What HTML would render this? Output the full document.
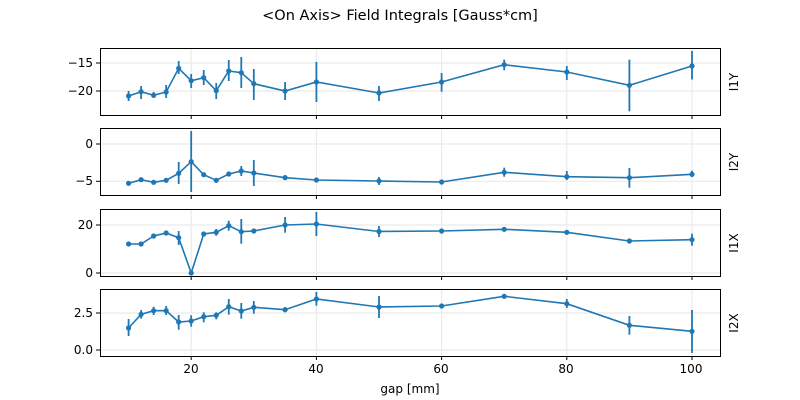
<!DOCTYPE html>
<html><head><meta charset="utf-8"><style>
html,body{margin:0;padding:0;background:#fff;}
svg{display:block;font-family:"DejaVu Sans","Liberation Sans",sans-serif;}
</style></head><body>
<svg id="s" width="800" height="400" viewBox="0 0 800 400" xmlns="http://www.w3.org/2000/svg">
<rect width="800" height="400" fill="#fff"/>
<text x="400" y="20" font-size="14.5" text-anchor="middle" fill="#000">&lt;On Axis&gt; Field Integrals [Gauss*cm]</text>
<g id="grid" stroke="#ebebeb" stroke-width="1.2"></g>
<g id="data"></g>
<g fill="none" stroke="#000" stroke-width="1">
<rect x="100.5" y="48.5" width="620" height="67"/>
<rect x="100.5" y="128.5" width="620" height="67"/>
<rect x="100.5" y="209.5" width="620" height="67"/>
<rect x="100.5" y="289.5" width="620" height="67"/>
</g>
<g id="ticks" stroke="#000" stroke-width="1"></g>
<g font-size="12" fill="#000" text-anchor="end">
<text x="93" y="67">−15</text><text x="93" y="95">−20</text>
<text x="93" y="148">0</text><text x="93" y="185">−5</text>
<text x="93" y="229">20</text><text x="93" y="277">0</text>
<text x="93" y="317">2.5</text><text x="93" y="354">0.0</text>
</g>
<g font-size="12" fill="#000" text-anchor="middle">
<text x="191" y="373">20</text><text x="316" y="373">40</text><text x="441" y="373">60</text><text x="566" y="373">80</text><text x="691" y="373">100</text>
<text x="410" y="393">gap [mm]</text>
</g>
<g font-size="12" fill="#000" text-anchor="middle">
<text transform="translate(738,82) rotate(-90)">I1Y</text>
<text transform="translate(738,162) rotate(-90)">I2Y</text>
<text transform="translate(738,243) rotate(-90)">I1X</text>
<text transform="translate(738,323) rotate(-90)">I2X</text>
</g>
</svg>
<script>
var ns="http://www.w3.org/2000/svg";
function el(p,t,a){var e=document.createElementNS(ns,t);for(var k in a)e.setAttribute(k,a[k]);p.appendChild(e);return e;}
var G=[10,12,14,16,18,20,22,24,26,28,30,35,40,50,60,70,80,90,100];
function X(g){return 66+6.26*g;}
var grid=document.getElementById('grid'),tk=document.getElementById('ticks'),dg=document.getElementById('data');
var panels=[[48,115],[128,195],[209,276],[289,356]];
var yt=[[63,91],[144,181.3],[225,273],[313,350]];
panels.forEach(function(p,i){
 [20,40,60,80,100].forEach(function(g){var x=X(g);el(grid,'line',{x1:x,x2:x,y1:p[0],y2:p[1]});el(tk,'line',{x1:x,x2:x,y1:p[1],y2:p[1]+4});});
 yt[i].forEach(function(y){el(grid,'line',{x1:100,x2:720,y1:y,y2:y});el(tk,'line',{x1:96,x2:100,y1:y,y2:y});});
});
// [y, errTop, errBot]
var D=[
[[96,91,101],[91.7,86,99],[95.3,92,98],[92,85,98],[68.3,61,74],[80.7,74,88],[77.7,70,85],[90.7,83,99],[71,60,81],[72.7,57,88],[83.7,69,100],[91,82,100],[82,62,102],[93,86,101],[82,73,91.7],[64.7,59.7,70.3],[72,66,80],[85.3,59.7,111.3],[66,51,79.5]],
[[183.3,182,185],[179.7,178,181.5],[182.3,181,183.5],[180.3,179,182],[173.3,162,184],[161.7,131,192],[174.7,173,176],[180.3,179,181.5],[174,172.3,176],[171,166,176],[173,160,186],[177.7,175,180],[180,179,181],[181,177,185],[182,181,183],[172.3,167.7,176.7],[176.7,171,180],[177.7,168,187.7],[174.3,170.7,177]],
[[244,243,245],[244,243,245],[236,235,237],[233,232,234],[237.7,231,245],[273,272,274],[234,233,235],[232.3,229,235.7],[225.7,220.7,230.7],[231.7,219,243.7],[231,229,233],[225,217,232.7],[224,212,236],[231.5,226,237],[231,230,232],[229.3,228.3,230.3],[232.3,231.3,233.3],[241,240,242],[239.7,233.7,245.7]],
[[328,319,336],[314.3,310,318.7],[310.7,306.7,315],[310.7,306,315],[322,315,329.7],[321,315.3,326.7],[316.7,312.3,322.3],[315.3,312.3,319.3],[306.7,299,314.7],[311,303,318.7],[307.3,301,313.7],[309.7,307,312.3],[299,292,305.7],[307,296,318],[306,304,308],[296.3,294,298.5],[303.7,299,308],[325.3,316,334.7],[331.3,310,353]]
];
D.forEach(function(s){
 var pts=s.map(function(d,j){return X(G[j])+','+d[0];}).join(' ');
 s.forEach(function(d,j){el(dg,'line',{x1:X(G[j]),x2:X(G[j]),y1:d[1],y2:d[2],stroke:'#1f77b4','stroke-width':1.8});});
 el(dg,'polyline',{points:pts,fill:'none',stroke:'#1f77b4','stroke-width':1.6});
 s.forEach(function(d,j){el(dg,'circle',{cx:X(G[j]),cy:d[0],r:2.6,fill:'#1f77b4'});});
});
</script>
</body></html>
